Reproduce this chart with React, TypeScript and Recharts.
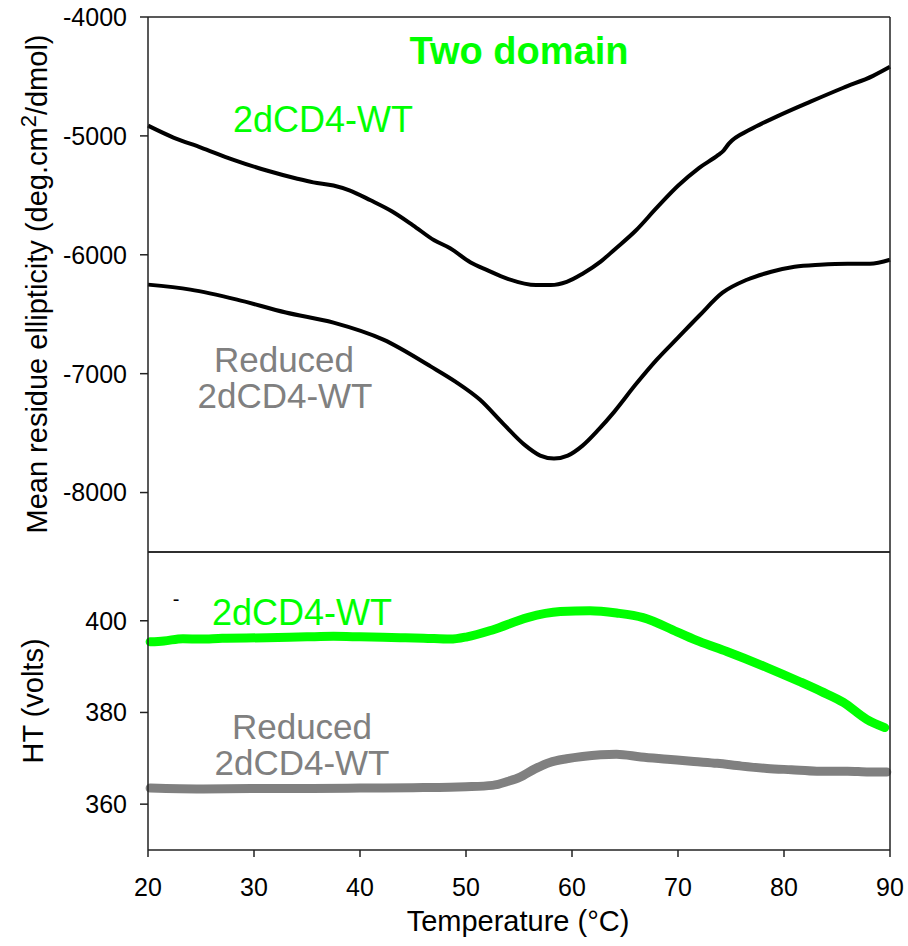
import React from 'react';
import { LineChart, Line, XAxis, YAxis } from 'recharts';

// temperature ramp (°C) and mean residue ellipticity, oxidised 2dCD4-WT
const wtCdTemp = [20, 22.4, 25, 28, 31.2, 34, 35.6, 37.5, 39, 41, 43, 45, 47, 48.5, 50.4, 52, 54, 56.6, 58, 59.5, 61, 62.7, 64, 66, 68, 70, 72, 73.8, 74.3, 74.8, 76.8, 79.3, 82.5, 85.6, 88.4, 90];
const wtCdValue = [-4914, -5014, -5098, -5199, -5291, -5358, -5391, -5417, -5458, -5542, -5634, -5752, -5878, -5945, -6062, -6129, -6204, -6255, -6255, -6228, -6159, -6058, -5957, -5798, -5604, -5420, -5269, -5160, -5123, -5065, -4947, -4838, -4712, -4595, -4495, -4419];

// reduced 2dCD4-WT ellipticity
const redCdTemp = [20, 24, 28.4, 33, 37.5, 42.2, 46.7, 49, 51.3, 53.5, 55.5, 57, 58.3, 59.6, 61, 62.5, 64, 66, 68, 70, 72, 74.2, 76.5, 78.8, 81, 83.4, 86, 88.1, 90];
const redCdValue = [-6251, -6293, -6377, -6486, -6571, -6714, -6941, -7067, -7218, -7420, -7597, -7689, -7714, -7689, -7605, -7471, -7319, -7092, -6882, -6697, -6513, -6319, -6210, -6143, -6101, -6084, -6076, -6076, -6042];

// HT voltage, 2dCD4-WT
const wtHtTemp = [20.2, 21.5, 23.3, 25, 27, 31.2, 35, 37.5, 40, 43.8, 46, 48.5, 50.1, 52.5, 55.8, 58.9, 61.7, 64.2, 66.7, 69.9, 72, 74.6, 78.4, 81.5, 83.5, 85.6, 87.8, 89.5];
const wtHtValue = [395.4, 395.6, 396.1, 396.0, 396.2, 396.3, 396.5, 396.6, 396.5, 396.3, 396.2, 396.0, 396.5, 398.0, 400.7, 402.0, 402.2, 401.7, 400.7, 397.6, 395.5, 393.3, 389.8, 386.7, 384.6, 382.2, 378.5, 376.7];

// HT voltage, reduced 2dCD4-WT
const redHtTemp = [20.2, 25, 30, 35, 40, 45, 48.5, 50, 52.5, 54, 55.1, 56.5, 57.9, 59.5, 61, 64.2, 66.5, 69, 71.5, 73.7, 76, 78.4, 80.7, 83.1, 86, 88, 89.7];
const redHtValue = [363.5, 363.3, 363.4, 363.4, 363.5, 363.6, 363.7, 363.8, 364.1, 365.0, 365.9, 367.7, 369.1, 369.9, 370.4, 370.9, 370.3, 369.8, 369.3, 368.9, 368.3, 367.8, 367.5, 367.2, 367.2, 367.0, 367.0];

const tempTicks = [20, 30, 40, 50, 60, 70, 80, 90];
const cdTicks = [-8000, -7000, -6000, -5000, -4000];
const htTicks = [360, 380, 400];

const zip = (xs: number[], ys: number[]) => xs.map((t, i) => ({ t, v: ys[i] }));

const FONT = "Arial, 'Liberation Sans', sans-serif";
const AXIS = { stroke: '#222', strokeWidth: 1.5 };
const GREEN = '#00ff00';
const GREY = '#808080';
const tickStyle = { fill: '#000', fontSize: 25, fontFamily: FONT };

const App: React.FC = () => {
  const wtCd = zip(wtCdTemp, wtCdValue);
  const redCd = zip(redCdTemp, redCdValue);
  const wtHt = zip(wtHtTemp, wtHtValue);
  const redHt = zip(redHtTemp, redHtValue);

  return (
    <div style={{ position: 'absolute', left: 0, top: 0, width: 908, height: 946, background: '#fff' }}>
      {/* top panel: ellipticity */}
      <div style={{ position: 'absolute', left: 0, top: 0 }}>
        <LineChart width={908} height={560} margin={{ top: 16, right: 17, bottom: 7, left: 48 }}>
          <XAxis type="number" dataKey="t" domain={[20, 90]} ticks={tempTicks} tick={false} tickLine={false} axisLine={AXIS} height={1} />
          <XAxis xAxisId="top" orientation="top" type="number" dataKey="t" domain={[20, 90]} tick={false} tickLine={false} axisLine={AXIS} height={1} />
          <YAxis
            type="number"
            domain={[-8500, -4000]}
            ticks={cdTicks}
            interval={0}
            width={100}
            tickSize={8}
            tickMargin={13}
            tick={tickStyle}
            tickLine={AXIS}
            axisLine={AXIS}
          />
          <YAxis yAxisId="right" orientation="right" domain={[-8500, -4000]} tick={false} tickLine={false} axisLine={AXIS} width={1} />
          <Line data={wtCd} dataKey="v" type="monotone" stroke="#000" strokeWidth={4} dot={false} isAnimationActive={false} />
          <Line data={redCd} dataKey="v" type="monotone" stroke="#000" strokeWidth={4} dot={false} isAnimationActive={false} />
        </LineChart>
      </div>

      {/* bottom panel: HT voltage */}
      <div style={{ position: 'absolute', left: 0, top: 551 }}>
        <LineChart width={908} height={395} margin={{ top: 0, right: 17, bottom: 0, left: 48 }}>
          <XAxis
            type="number"
            dataKey="t"
            domain={[20, 90]}
            ticks={tempTicks}
            interval={0}
            height={96}
            tickSize={7}
            tickMargin={21}
            tick={tickStyle}
            tickLine={AXIS}
            axisLine={AXIS}
          />
          <XAxis xAxisId="top" orientation="top" type="number" dataKey="t" domain={[20, 90]} tick={false} tickLine={false} axisLine={AXIS} height={1} />
          <YAxis
            type="number"
            domain={[350, 415]}
            ticks={htTicks}
            interval={0}
            width={100}
            tickSize={8}
            tickMargin={13}
            tick={tickStyle}
            tickLine={AXIS}
            axisLine={AXIS}
          />
          <YAxis yAxisId="right" orientation="right" domain={[350, 415]} tick={false} tickLine={false} axisLine={AXIS} width={1} />
          <Line data={wtHt} dataKey="v" type="monotone" stroke={GREEN} strokeWidth={9} strokeLinecap="round" dot={false} isAnimationActive={false} />
          <Line data={redHt} dataKey="v" type="monotone" stroke={GREY} strokeWidth={9} strokeLinecap="round" dot={false} isAnimationActive={false} />
        </LineChart>
      </div>

      {/* titles and in-plot labels */}
      <svg width={908} height={946} style={{ position: 'absolute', left: 0, top: 0, pointerEvents: 'none' }} fontFamily={FONT}>
        <text x={519} y={64} textAnchor="middle" fontSize={38} fontWeight="bold" fill={GREEN}>Two domain</text>
        <text x={323} y={132} textAnchor="middle" fontSize={36} fill={GREEN}>2dCD4-WT</text>
        <text x={284} y={372} textAnchor="middle" fontSize={35} fill={GREY}>Reduced</text>
        <text x={285} y={408} textAnchor="middle" fontSize={35} fill={GREY}>2dCD4-WT</text>

        <text x={176} y={606} textAnchor="middle" fontSize={20} fill="#000">-</text>
        <text x={302} y={625} textAnchor="middle" fontSize={36} fill={GREEN}>2dCD4-WT</text>
        <text x={302} y={739} textAnchor="middle" fontSize={35} fill={GREY}>Reduced</text>
        <text x={302} y={775} textAnchor="middle" fontSize={35} fill={GREY}>2dCD4-WT</text>

        <text x={518} y={931} textAnchor="middle" fontSize={29} fill="#000">Temperature (°C)</text>
        <text transform="translate(47,284) rotate(-90)" textAnchor="middle" fontSize={29} fill="#000">
          <tspan>Mean residue ellipticity (deg.cm</tspan>
          <tspan dy={-11} fontSize={22}>2</tspan>
          <tspan dy={11}>/dmol)</tspan>
        </text>
        <text transform="translate(43,701) rotate(-90)" textAnchor="middle" fontSize={29} fill="#000">HT (volts)</text>
      </svg>
    </div>
  );
};

export default App;
